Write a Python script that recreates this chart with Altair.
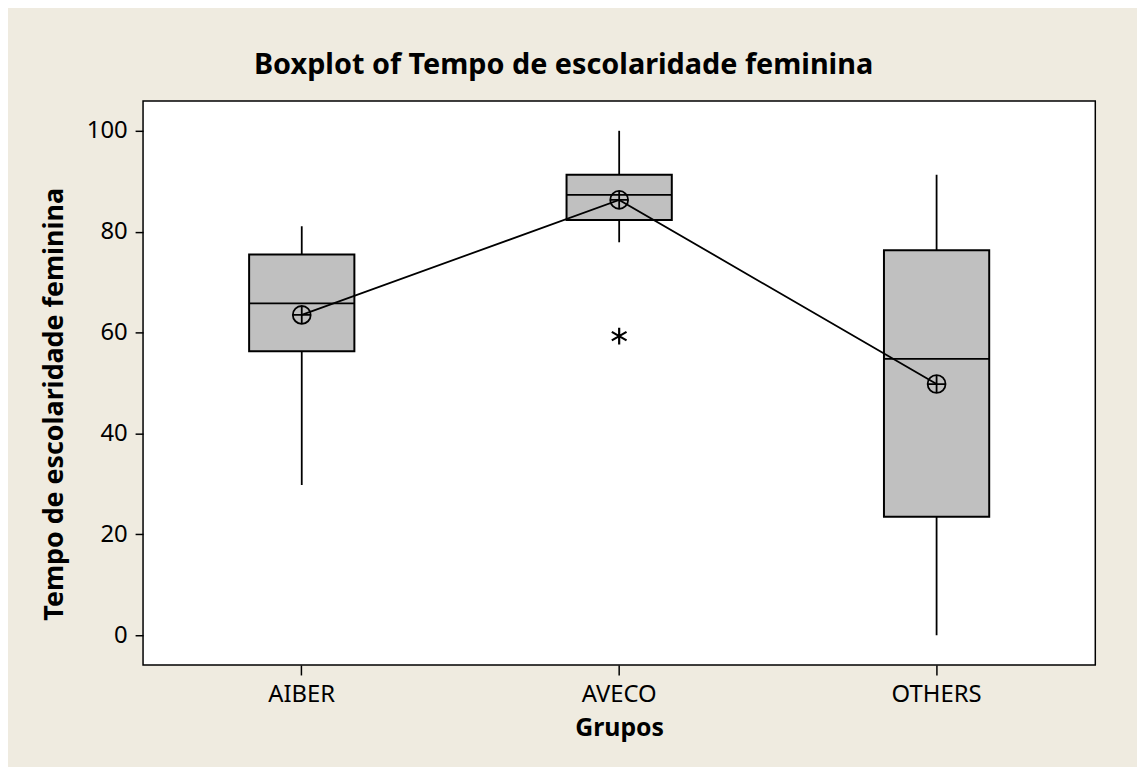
import altair as alt
import pandas as pd

# ---- data ----
groups = ["AIBER", "AVECO", "OTHERS"]
whisker_low = [29.8, 77.9, 0.0]
q1 = [56.3, 82.3, 23.5]
median = [65.8, 87.3, 54.8]
q3 = [75.5, 91.3, 76.3]
whisker_high = [81.1, 100.0, 91.3]
means = [63.5, 86.3, 49.8]
outlier_groups = ["AVECO"]
outlier_values = [59.3]
y_ticks = [0, 20, 40, 60, 80, 100]

df = pd.DataFrame({
    "group": groups,
    "lo": whisker_low,
    "q1": q1,
    "med": median,
    "q3": q3,
    "hi": whisker_high,
    "mean": means,
})
out = pd.DataFrame({"group": outlier_groups, "val": outlier_values})

FONT = "Noto Sans"
BG = "#EFEBE0"

xenc = alt.X(
    "group:N",
    sort=groups,
    scale=alt.Scale(domain=groups, paddingInner=0, paddingOuter=0),
    axis=alt.Axis(
        title="Grupos",
        labelAngle=0,
        tickSize=10,
        tickWidth=1.5,
        tickColor="black",
        domain=False,
        labelBaseline="alphabetic",
        labelPadding=27,
        titleBaseline="alphabetic",
        titleY=71,
        titleFontSize=25,
    ),
)
yscale = alt.Scale(domain=[-5.9, 105.9], nice=False, zero=False)
yaxis = alt.Axis(
    title="Tempo de escolaridade feminina",
    values=y_ticks,
    grid=False,
    domain=False,
    tickSize=8,
    tickWidth=1.5,
    tickColor="black",
    labelPadding=8,
    titleAngle=-90,
    titleBaseline="alphabetic",
    titleAlign="center",
    titleX=-81,
    titleY=305,
    titleFontSize=27,
)


def yenc(field):
    return alt.Y(field, scale=yscale, axis=yaxis)


base = alt.Chart(df).encode(x=xenc)

whiskers = base.mark_rule(color="black", strokeWidth=1.8).encode(
    y=yenc("lo:Q"), y2="hi:Q"
)
boxes = base.mark_bar(size=106, color="#C0C0C0", stroke="black", strokeWidth=2).encode(
    y=yenc("q1:Q"), y2="q3:Q"
)
meds = base.mark_tick(size=106, thickness=1.8, color="black", orient="horizontal", opacity=1).encode(
    y=yenc("med:Q")
)
mean_line = base.mark_line(color="black", strokeWidth=1.8).encode(
    y=yenc("mean:Q")
)
mean_circ = base.mark_point(shape="circle", size=324, filled=False, color="black",
                            strokeWidth=1.8, opacity=1).encode(
    y=yenc("mean:Q")
)
mean_cross = base.mark_point(shape="M-1,0H1M0,-1V1", size=324, filled=False, color="black",
                             strokeWidth=1.8, opacity=1).encode(
    y=yenc("mean:Q")
)
outliers = alt.Chart(out).mark_point(
    shape="M0,-1V1M-0.87,-0.5L0.87,0.5M-0.87,0.5L0.87,-0.5",
    size=290, filled=False, color="black", strokeWidth=2.2, opacity=1,
).encode(
    x=alt.X("group:N", sort=groups),
    y=yenc("val:Q"),
)

chart = alt.layer(
    whiskers, boxes, meds, mean_line, mean_circ, mean_cross, outliers
).properties(
    width=959,
    height=568,
    title=alt.TitleParams(
        "Boxplot of Tempo de escolaridade feminina",
        font=FONT,
        fontSize=29,
        fontWeight="bold",
        color="black",
        baseline="alphabetic",
        offset=2,
        dy=4,
        anchor="middle",
        dx=-56,
    ),
    autosize=alt.AutoSizeParams(type="none"),
    padding={"left": 136, "top": 91, "right": 42, "bottom": 100},
    background=BG,
).configure_view(
    stroke="black", strokeWidth=1.5, fill="white"
).configure_axis(
    labelFont=FONT,
    labelFontSize=24,
    labelColor="black",
    titleFont=FONT,
    titleFontSize=24,
    titleFontWeight="bold",
    titleColor="black",
)

chart.save("out.html", embed_options={"renderer": "svg", "actions": False})
